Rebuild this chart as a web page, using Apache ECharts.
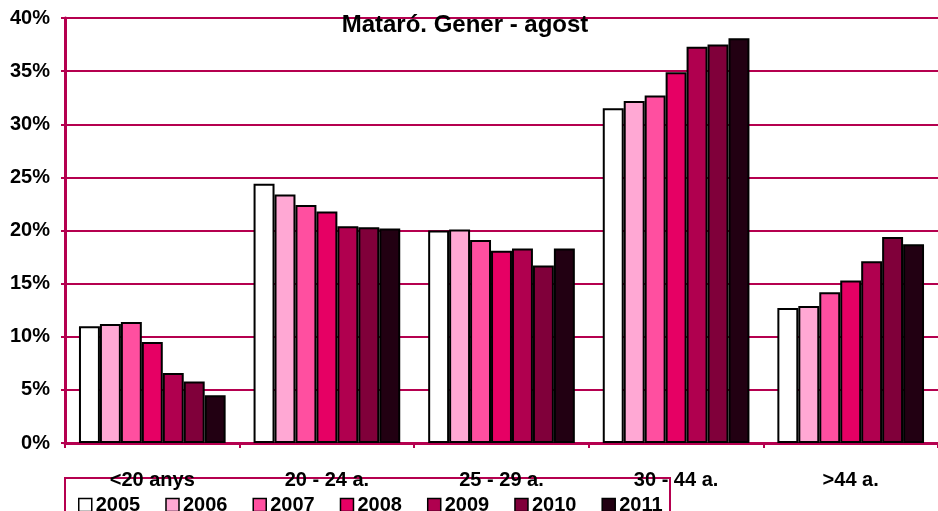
<!DOCTYPE html>
<html>
<head>
<meta charset="utf-8">
<script src="https://cdn.jsdelivr.net/npm/echarts@6/dist/echarts.min.js"></script>
<style>
  html, body { margin: 0; padding: 0; background: #fff; }
  #chart { width: 938px; height: 511px; }
</style>
</head>
<body>
<div id="chart"></div>
<script>
const categories = ['<20 anys', '20 - 24 a.', '25 - 29 a.', '30 - 44 a.', '>44 a.']
const years = ['2005', '2006', '2007', '2008', '2009', '2010', '2011']
const colors = ['#ffffff', '#ffa8d4', '#ff4fa0', '#e60064', '#b0004f', '#80003a', '#220012']

// percentage per age group, one array per year
const v2005 = [11.0, 24.4, 20.0, 31.5, 12.7]
const v2006 = [11.2, 23.4, 20.1, 32.2, 12.9]
const v2007 = [11.4, 22.4, 19.1, 32.7, 14.2]
const v2008 = [9.5, 21.8, 18.1, 34.9, 15.3]
const v2009 = [6.6, 20.4, 18.3, 37.3, 17.1]
const v2010 = [5.8, 20.3, 16.7, 37.5, 19.4]
const v2011 = [4.5, 20.2, 18.3, 38.1, 18.7]
const values = [v2005, v2006, v2007, v2008, v2009, v2010, v2011]

const crimson = '#b5004f'
const font = '"Liberation Sans", Arial, sans-serif'

const chart = echarts.init(document.getElementById('chart'))

chart.setOption({
  animation: false,
  backgroundColor: '#fff',
  title: {
    text: 'Mataró. Gener - agost',
    left: 460,
    textAlign: 'center',
    top: 8,
    textStyle: { color: '#000', fontFamily: font, fontSize: 24, fontWeight: 'bold' }
  },
  legend: {
    data: years,
    left: 73,
    top: 490,
    itemWidth: 13,
    itemHeight: 13,
    itemGap: 25,
    icon: 'rect',
    itemStyle: { borderColor: '#000', borderWidth: 1.5 },
    textStyle: { color: '#000', fontFamily: font, fontSize: 20, fontWeight: 'bold', padding: [0, 0, 0, -1] }
  },
  graphic: [{
    type: 'rect',
    shape: { x: 65, y: 478, width: 605, height: 40 },
    style: { fill: 'none', stroke: crimson, lineWidth: 2 },
    z: -1
  }],
  grid: { left: 65, top: 18, width: 880, height: 425 },
  xAxis: {
    type: 'category',
    data: categories,
    axisLine: { lineStyle: { color: crimson, width: 3 } },
    axisTick: { show: true, length: 5, lineStyle: { color: crimson, width: 2 } },
    axisLabel: { color: '#000', fontFamily: font, fontSize: 20, fontWeight: 'bold', margin: 27 }
  },
  yAxis: {
    type: 'value',
    min: 0,
    max: 40,
    interval: 5,
    axisLine: { show: true, lineStyle: { color: crimson, width: 3 } },
    axisTick: { show: true, length: 4, lineStyle: { color: crimson, width: 2 } },
    axisLabel: {
      color: '#000', fontFamily: font, fontSize: 20, fontWeight: 'bold', margin: 15,
      formatter: (v) => v + '%'
    },
    splitLine: { lineStyle: { color: crimson, width: 2 } }
  },
  series: years.map((year, i) => ({
    name: year,
    type: 'bar',
    data: values[i],
    barGap: '0%',
    barCategoryGap: '16%',
    itemStyle: { color: colors[i], borderColor: '#000', borderWidth: 2 }
  }))
})
</script>
</body>
</html>
